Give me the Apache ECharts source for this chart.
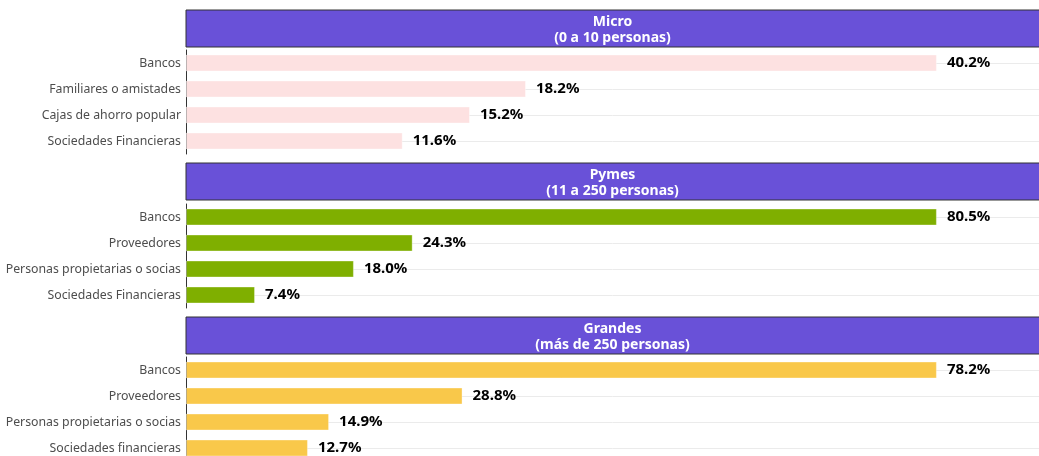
<!DOCTYPE html>
<html><head><meta charset="utf-8">
<script src="https://cdn.jsdelivr.net/npm/echarts@6/dist/echarts.min.js"></script>
<style>html,body{margin:0;padding:0;background:#fff}#c{width:1039px;height:456px}</style>
</head><body><div id="c"></div>
<script>
const panelTitles = ['Micro\n(0 a 10 personas)', 'Pymes\n(11 a 250 personas)', 'Grandes\n(más de 250 personas)'];
const microCats = ['Bancos', 'Familiares o amistades', 'Cajas de ahorro popular', 'Sociedades Financieras'];
const microVals = [40.2, 18.2, 15.2, 11.6];
const pymesCats = ['Bancos', 'Proveedores', 'Personas propietarias o socias', 'Sociedades Financieras'];
const pymesVals = [80.5, 24.3, 18.0, 7.4];
const grandesCats = ['Bancos', 'Proveedores', 'Personas propietarias o socias', 'Sociedades financieras'];
const grandesVals = [78.2, 28.8, 14.9, 12.7];
const colors = ['#FDE1E1', '#7FAF00', '#F9C84A'];

const cats = [microCats, pymesCats, grandesCats];
const vals = [microVals, pymesVals, grandesVals];
const FONT = 'Noto Sans';
const gridTops = [50, 204, 357];
const headerTops = [10, 163, 317];
const LEFT = 186, W = 1039, GH = 104;

const grids = [], xAxes = [], yAxes = [], series = [], graphics = [];
for (let i = 0; i < 3; i++) {
  grids.push({ left: LEFT, right: 0, top: gridTops[i], height: GH, containLabel: false, outerBoundsMode: 'none' });
  xAxes.push({ type: 'value', gridIndex: i, min: 0, max: v => v.max * 1.136, show: false });
  yAxes.push({
    type: 'category', gridIndex: i, data: cats[i], inverse: true,
    axisLine: { show: true, lineStyle: { color: '#333', width: 1 } },
    axisTick: { show: false },
    axisLabel: { color: '#4d4d4d', fontSize: 12.3, fontFamily: FONT, margin: 5 },
    splitLine: { show: true, alignWithLabel: true, lineStyle: { color: '#ebebeb', width: 1 } }
  });
  series.push({
    type: 'bar', xAxisIndex: i, yAxisIndex: i, data: vals[i], barWidth: 17,
    itemStyle: { color: colors[i], borderColor: 'rgba(255,255,255,0.35)', borderWidth: 1 },
    label: { show: true, position: 'right', distance: 10, color: '#000', fontWeight: 'bold',
      fontSize: 15, fontFamily: FONT, formatter: p => p.value.toFixed(1) + '%' }
  });
  graphics.push({
    type: 'rect', shape: { x: LEFT, y: headerTops[i], width: W - LEFT + 2, height: 37 },
    style: { fill: '#6951D8', stroke: '#333', lineWidth: 1 }, z: 10
  });
  graphics.push({
    type: 'text', x: (LEFT + W) / 2, y: headerTops[i] + 20, z: 11,
    style: { text: panelTitles[i], fill: '#fff', font: 'bold 14px "' + FONT + '"',
      textAlign: 'center', textVerticalAlign: 'middle', lineHeight: 16 }
  });
}

const chart = echarts.init(document.getElementById('c'), null, { renderer: 'canvas' });
chart.setOption({
  animation: false,
  grid: grids, xAxis: xAxes, yAxis: yAxes, series: series, graphic: graphics
});
</script></body></html>
